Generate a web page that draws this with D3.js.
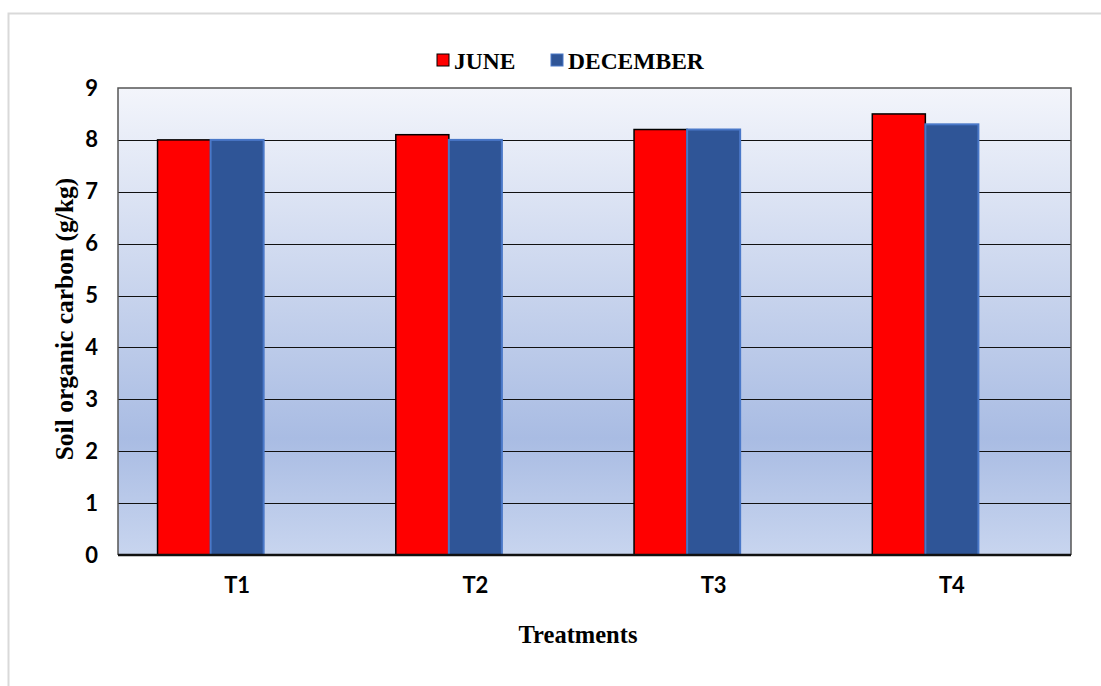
<!DOCTYPE html>
<html><head><meta charset="utf-8">
<script src="https://cdn.jsdelivr.net/npm/d3@7"></script>
<style>body{margin:0;background:#fff}svg{display:block}</style>
</head><body>
<script>
const categories = ["T1","T2","T3","T4"];
const seriesNames = ["JUNE","DECEMBER"];
const slots = ["JUNE","DECEMBER","(empty)"];  // chart reserves a third, empty series slot
const june = [8.0, 8.1, 8.2, 8.5];
const december = [8.0, 8.0, 8.2, 8.3];
const yTicks = [0,1,2,3,4,5,6,7,8,9];
const colors = ["#ff0000","#2f5597"];
const strokes = ["#000000","#4a78c8"];

const W=1101,H=686;
const svg=d3.select("body").append("svg").attr("width",W).attr("height",H);
svg.append("path").attr("d","M8.5,686 V13.5 H1101").attr("fill","none").attr("stroke","#d9d9d9").attr("stroke-width",2);

const m={l:118,t:88,r:1071,b:555};
const x=d3.scaleBand().domain(categories).range([m.l,m.r]).paddingInner(0.332).paddingOuter(0.166);
const x1=d3.scaleBand().domain(slots).range([0,x.bandwidth()]);
const y=d3.scaleLinear().domain([0,9]).range([m.b,m.t]);

const defs=svg.append("defs");
const g=defs.append("linearGradient").attr("id","bg").attr("x1",0).attr("y1",0).attr("x2",0).attr("y2",1);
g.append("stop").attr("offset","0%").attr("stop-color","#f3f5fb");
g.append("stop").attr("offset","75%").attr("stop-color","#a9bce3");
g.append("stop").attr("offset","100%").attr("stop-color","#c8d5ef");
svg.append("rect").attr("x",m.l).attr("y",m.t).attr("width",m.r-m.l).attr("height",m.b-m.t).attr("fill","url(#bg)");

svg.append("g").selectAll("line").data(yTicks.filter(d=>d>0&&d<9)).join("line")
 .attr("x1",m.l).attr("x2",m.r).attr("y1",d=>Math.round(y(d))+0.5).attr("y2",d=>Math.round(y(d))+0.5)
 .attr("stroke","#111").attr("stroke-width",1.2);

svg.append("path").attr("d",`M${m.l},${m.b} V${m.t} H${m.r} V${m.b}`).attr("fill","none").attr("stroke","#555").attr("stroke-width",1.5);

const data=categories.map((c,i)=>({c,vals:[june[i],december[i]]}));
const grp=svg.append("g").selectAll("g").data(data).join("g").attr("transform",d=>`translate(${x(d.c)},0)`);
grp.selectAll("rect").data(d=>d.vals.map((v,k)=>({v,k}))).join("rect")
 .attr("x",d=>x1(seriesNames[d.k])).attr("width",x1.bandwidth())
 .attr("y",d=>y(d.v)).attr("height",d=>y(0)-y(d.v))
 .attr("fill",d=>colors[d.k]).attr("stroke",d=>strokes[d.k]).attr("stroke-width",d=>d.k?2:1.5);

svg.append("line").attr("x1",m.l).attr("x2",m.r).attr("y1",m.b).attr("y2",m.b).attr("stroke","#111").attr("stroke-width",2.5);

const ya=svg.append("g").attr("transform",`translate(${m.l-20},0)`).call(d3.axisLeft(y).tickValues(yTicks).tickSize(0).tickPadding(0));
ya.select(".domain").remove();
ya.selectAll("text").attr("font-family","Lato, 'Open Sans', sans-serif").attr("font-weight","bold").attr("font-size",22).attr("fill","#000");

const xa=svg.append("g").attr("transform",`translate(0,${m.b+22})`).call(d3.axisBottom(x).tickSize(0).tickPadding(0));
xa.select(".domain").remove();
xa.selectAll("text").attr("dy","0.71em").attr("font-family","Lato, 'Open Sans', sans-serif").attr("font-weight","bold").attr("font-size",22).attr("fill","#000");

svg.append("text").attr("x",578).attr("y",643).attr("text-anchor","middle").attr("font-family","'Liberation Serif', serif").attr("font-weight","bold").attr("font-size",24.5).text("Treatments");
svg.append("text").attr("transform","translate(73,319) rotate(-90)").attr("text-anchor","middle").attr("font-family","'Liberation Serif', serif").attr("font-weight","bold").attr("font-size",25.5).text("Soil organic carbon (g/kg)");

const lx=[437,551];
const leg=svg.append("g").selectAll("g").data(seriesNames).join("g").attr("transform",(d,i)=>`translate(${lx[i]},54)`);
leg.append("rect").attr("width",12).attr("height",12).attr("fill",(d,i)=>colors[i]).attr("stroke",(d,i)=>i?"#4a78c8":"#000").attr("stroke-width",1);
leg.append("text").attr("x",17).attr("y",15).attr("font-family","'Liberation Serif', serif").attr("font-weight","bold").attr("font-size",23.5).text(d=>d);
</script>
</body></html>
